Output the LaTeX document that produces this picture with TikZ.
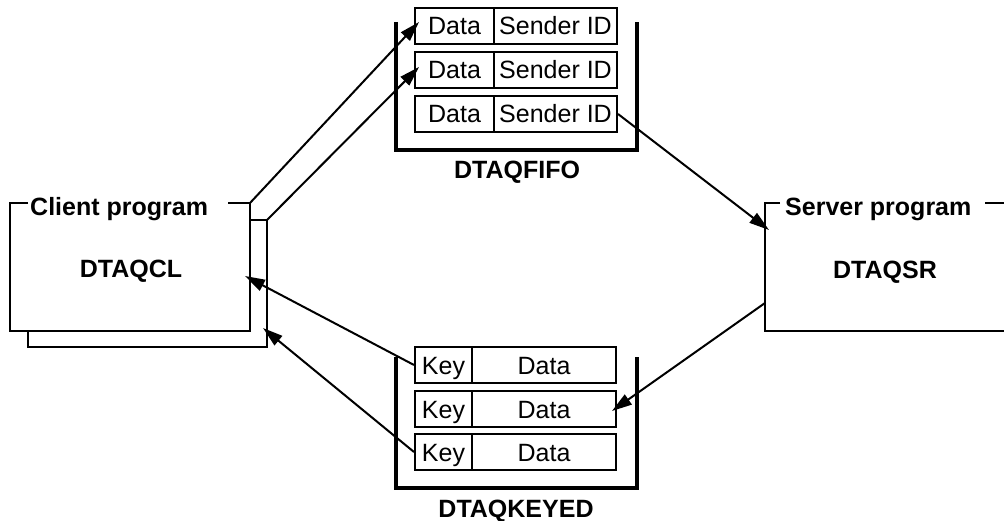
\documentclass[tikz,border=0pt]{standalone}
\usepackage{fontspec}
\setmainfont{Liberation Sans}
\usetikzlibrary{arrows.meta,calc}
\begin{document}
\begin{tikzpicture}[x=1pt,y=-1pt,
  every node/.style={font=\fontsize{25}{30}\selectfont, inner sep=0pt},
  cell/.style={draw, line width=2pt, minimum height=36pt, text height=18pt, text depth=0pt, anchor=center},
  lbl/.style={font=\fontsize{25}{30}\selectfont\bfseries, text height=18pt, text depth=0pt},
  frame/.style={line width=2pt, line join=miter},
  tank/.style={line width=4.5pt, line join=miter},
  flow/.style={line width=2pt, -{Triangle[length=20pt,width=12pt]}}]
\useasboundingbox (0,0) rectangle (1004,521);

% ---- Client program (front + back sheet)
\coordinate (clA) at (28,203);
\coordinate (clB) at (10,203);
\coordinate (clC) at (10,331);
\coordinate (clD) at (250,331);
\coordinate (clE) at (250,203);
\coordinate (clF) at (228,203);
\draw[frame] (clA) -- (clB) -- (clC) -- (clD) -- (clE) -- (clF);
\coordinate (bkA) at (28,331);
\coordinate (bkB) at (28,347);
\coordinate (bkC) at (267,347);
\coordinate (bkD) at (267,220);
\coordinate (bkE) at (250,220);
\draw[frame] (bkA) -- (bkB) -- (bkC) -- (bkD) -- (bkE);
\node[lbl, anchor=base west, text height=, text depth=] (cllabel) at (30,216) {Client program};
\node[lbl] (dtaqcl) at (131,269) {DTAQCL};

% ---- Server program
\coordinate (svA) at (780,203);
\coordinate (svB) at (765,203);
\coordinate (svC) at (765,331);
\coordinate (svD) at (1004,331);
\coordinate (svE) at (985,203);
\coordinate (svF) at (1004,203);
\draw[frame] (svA) -- (svB) -- (svC) -- (svD);
\draw[frame] (svE) -- (svF);
\node[lbl, anchor=base west, text height=, text depth=] (svlabel) at (785,216) {Server program};
\node[lbl] (dtaqsr) at (885,270) {DTAQSR};

% ---- DTAQFIFO queue
\coordinate (fqA) at (396,22);
\coordinate (fqB) at (396,150);
\coordinate (fqC) at (637,150);
\coordinate (fqD) at (637,22);
\draw[tank] (fqA) -- (fqB) -- (fqC) -- (fqD);
\foreach \r/\y in {1/26,2/70,3/114}{
  \node[cell, minimum width=79pt] (f\r d) at (454.5,\y) {Data};
  \node[cell, minimum width=123pt] (f\r s) at (555.5,\y) {Sender ID};
}
\node[lbl] (fifolabel) at (517,170) {DTAQFIFO};

% ---- DTAQKEYED queue
\coordinate (kqA) at (396,357);
\coordinate (kqB) at (396,488);
\coordinate (kqC) at (637,488);
\coordinate (kqD) at (637,357);
\draw[tank] (kqA) -- (kqB) -- (kqC) -- (kqD);
\foreach \r/\y in {1/365,2/409,3/452}{
  \node[cell, minimum width=57pt] (k\r k) at (443.5,\y) {Key};
  \node[cell, minimum width=144pt] (k\r d) at (544,\y) {Data};
}
\node[lbl] (keyedlabel) at (516,508) {DTAQKEYED};

% ---- connectors
\coordinate (t1) at (419,22);
\coordinate (t2) at (419,67);
\coordinate (t3) at (769,230);
\coordinate (s4) at (765,303);
\coordinate (t4) at (612,411);
\coordinate (t5) at (245,276);
\coordinate (t6) at (263,328);
\draw[flow] (clE) -- (t1);
\draw[flow] (bkD) -- (t2);
\draw[flow] (f3s.east) -- (t3);
\draw[flow] (s4) -- (t4);
\draw[flow] (k1k.west) -- (t5);
\draw[flow] (k3k.west) -- (t6);
\end{tikzpicture}
\end{document}
